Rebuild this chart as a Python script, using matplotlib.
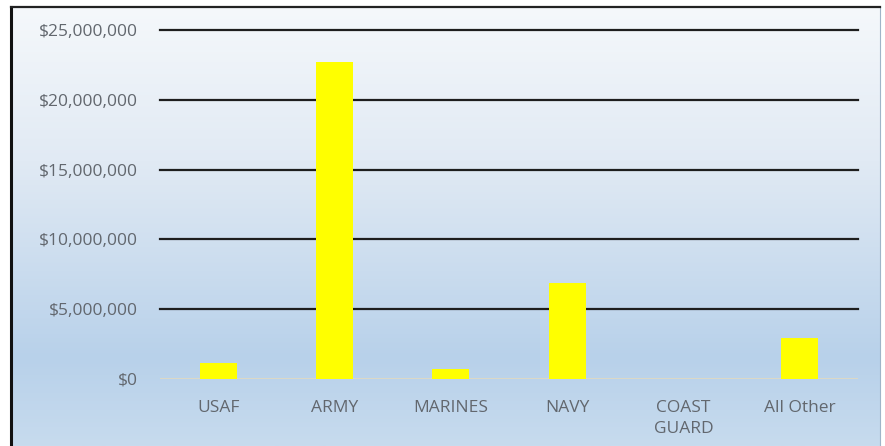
import numpy as np
import matplotlib.pyplot as plt
from matplotlib.colors import LinearSegmentedColormap
from matplotlib.ticker import FuncFormatter

# data
categories = ["USAF", "ARMY", "MARINES", "NAVY", "COAST\nGUARD", "All Other"]
amounts = [1170000, 22730000, 690000, 6900000, 0, 2920000]
y_ticks = [0, 5000000, 10000000, 15000000, 20000000, 25000000]

plt.rcParams['font.family'] = ['Open Sans', 'DejaVu Sans']

fig = plt.figure(figsize=(8.85, 4.46), dpi=100)
fig.patch.set_facecolor('white')

# background panel with the blue gradient
bg = fig.add_axes([11 / 885, 0, (880 - 11) / 885, (446 - 7) / 446], zorder=0)
grad = LinearSegmentedColormap.from_list(
    "bg", [(0.0, "#f5f8fb"), (0.35, "#e1eaf4"), (0.8, "#b8d1ea"), (1.0, "#c7dbee")])
bg.imshow(np.linspace(0, 1, 256).reshape(-1, 1), aspect='auto', cmap=grad,
          extent=[0, 1, 0, 1], origin='upper')
bg.set_xticks([])
bg.set_yticks([])
bg.spines['left'].set_color('#111111')
bg.spines['left'].set_linewidth(2.2)
bg.spines['top'].set_color('#222222')
bg.spines['top'].set_linewidth(1.6)
bg.spines['right'].set_color('#9fb4c8')
bg.spines['right'].set_linewidth(0.8)
bg.spines['bottom'].set_visible(False)

# main chart
ax = fig.add_axes([160 / 885, (446 - 379) / 446, (858 - 160) / 885, (379 - 30) / 446], zorder=1)
ax.patch.set_alpha(0)
x = np.arange(len(categories))
ax.bar(x, amounts, width=0.32, color="#ffff00", zorder=3)

for t in y_ticks[1:]:
    ax.axhline(t, color="#1e1e1e", linewidth=1.6, zorder=2, clip_on=False)
ax.axhline(0, color="#dcd9c6", linewidth=1.4, zorder=2)

ax.set_xlim(-0.5, len(categories) - 0.5)
ax.set_ylim(0, 25000000)
ax.set_yticks(y_ticks)
ax.yaxis.set_major_formatter(FuncFormatter(lambda v, p: "${:,.0f}".format(v)))
ax.set_xticks(x)
ax.set_xticklabels(categories, linespacing=1.4)
ax.tick_params(axis='both', length=0, labelsize=12.5, colors="#62676e")
ax.tick_params(axis='y', pad=16)
ax.tick_params(axis='x', pad=15)
for spine in ax.spines.values():
    spine.set_visible(False)

fig.savefig("out.png", dpi=100)
